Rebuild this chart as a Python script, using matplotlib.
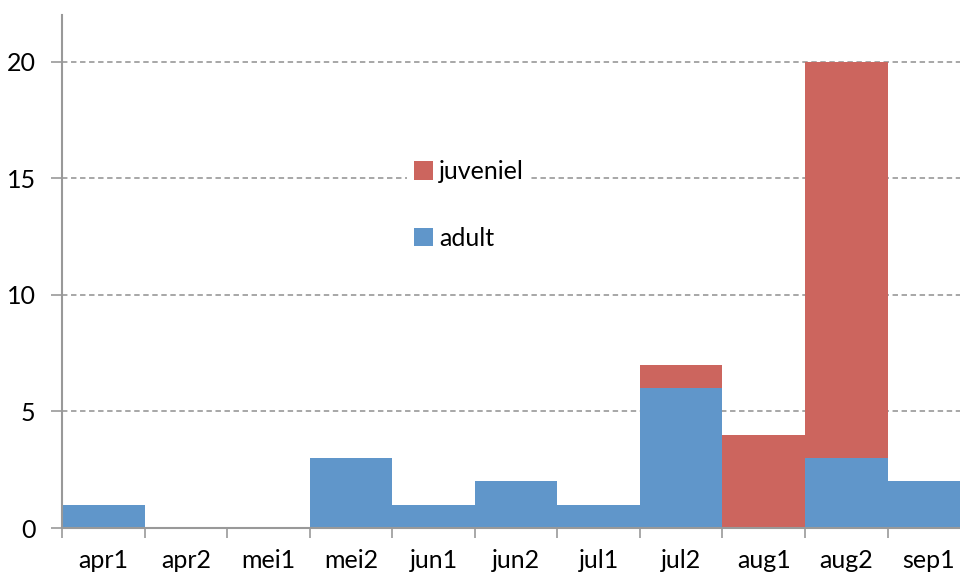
import matplotlib
matplotlib.use("Agg")
import matplotlib.pyplot as plt
import numpy as np

categories = ["apr1", "apr2", "mei1", "mei2", "jun1", "jun2", "jul1", "jul2", "aug1", "aug2", "sep1"]
adult = [1, 0, 0, 3, 1, 2, 1, 6, 0, 3, 2]
juveniel = [0, 0, 0, 0, 0, 0, 0, 1, 4, 17, 0]
yticks = [0, 5, 10, 15, 20]

plt.rcParams['font.family'] = ['Lato', 'DejaVu Sans']

fig = plt.figure(figsize=(9.6, 5.77), dpi=100)
ax = fig.add_axes([62/960, 1-528/577, 1-62/960, (528-15)/577])

x = np.arange(len(categories))
blue = "#6096CA"
red = "#CC655E"
b1 = ax.bar(x, adult, width=1.0, color=blue, label="adult", zorder=2)
b2 = ax.bar(x, juveniel, width=1.0, bottom=adult, color=red, label="juveniel", zorder=2)

ax.set_xlim(-0.5, 10.377)
ax.set_ylim(0, 22)
ax.set_yticks(yticks)
ax.set_xticks(x)
ax.set_xticklabels(categories)
ax.set_xticks(np.arange(-0.5, 10.5, 1.0), minor=True)
ax.tick_params(axis='x', which='major', length=0, pad=15, labelsize=18, labelcolor='black')
ax.tick_params(axis='x', which='minor', length=7, width=1.2, color='#999999', direction='out')
ax.tick_params(axis='y', length=8, width=1.2, color='#999999', direction='out', pad=11, labelsize=18)

for s in ['top', 'right']:
    ax.spines[s].set_visible(False)
for s in ['left', 'bottom']:
    ax.spines[s].set_color('#999999')
    ax.spines[s].set_linewidth(1.5)
    ax.spines[s].set_zorder(3)

ax.yaxis.grid(True, linestyle=(0, (3, 2)), color='#A0A0A0', linewidth=1.3, zorder=1)
ax.set_axisbelow(True)

leg = ax.legend([b2, b1], ["juveniel", "adult"], loc='center', bbox_to_anchor=(469/960, 1-205/577),
                bbox_transform=fig.transFigure, frameon=True, facecolor='white', edgecolor='none',
                framealpha=1, fontsize=18, handlelength=0.75, handleheight=0.75, handletextpad=0.25,
                labelspacing=1.75, borderpad=0.3, fancybox=False)
leg.set_zorder(5)

fig.savefig("out.png", dpi=100)
